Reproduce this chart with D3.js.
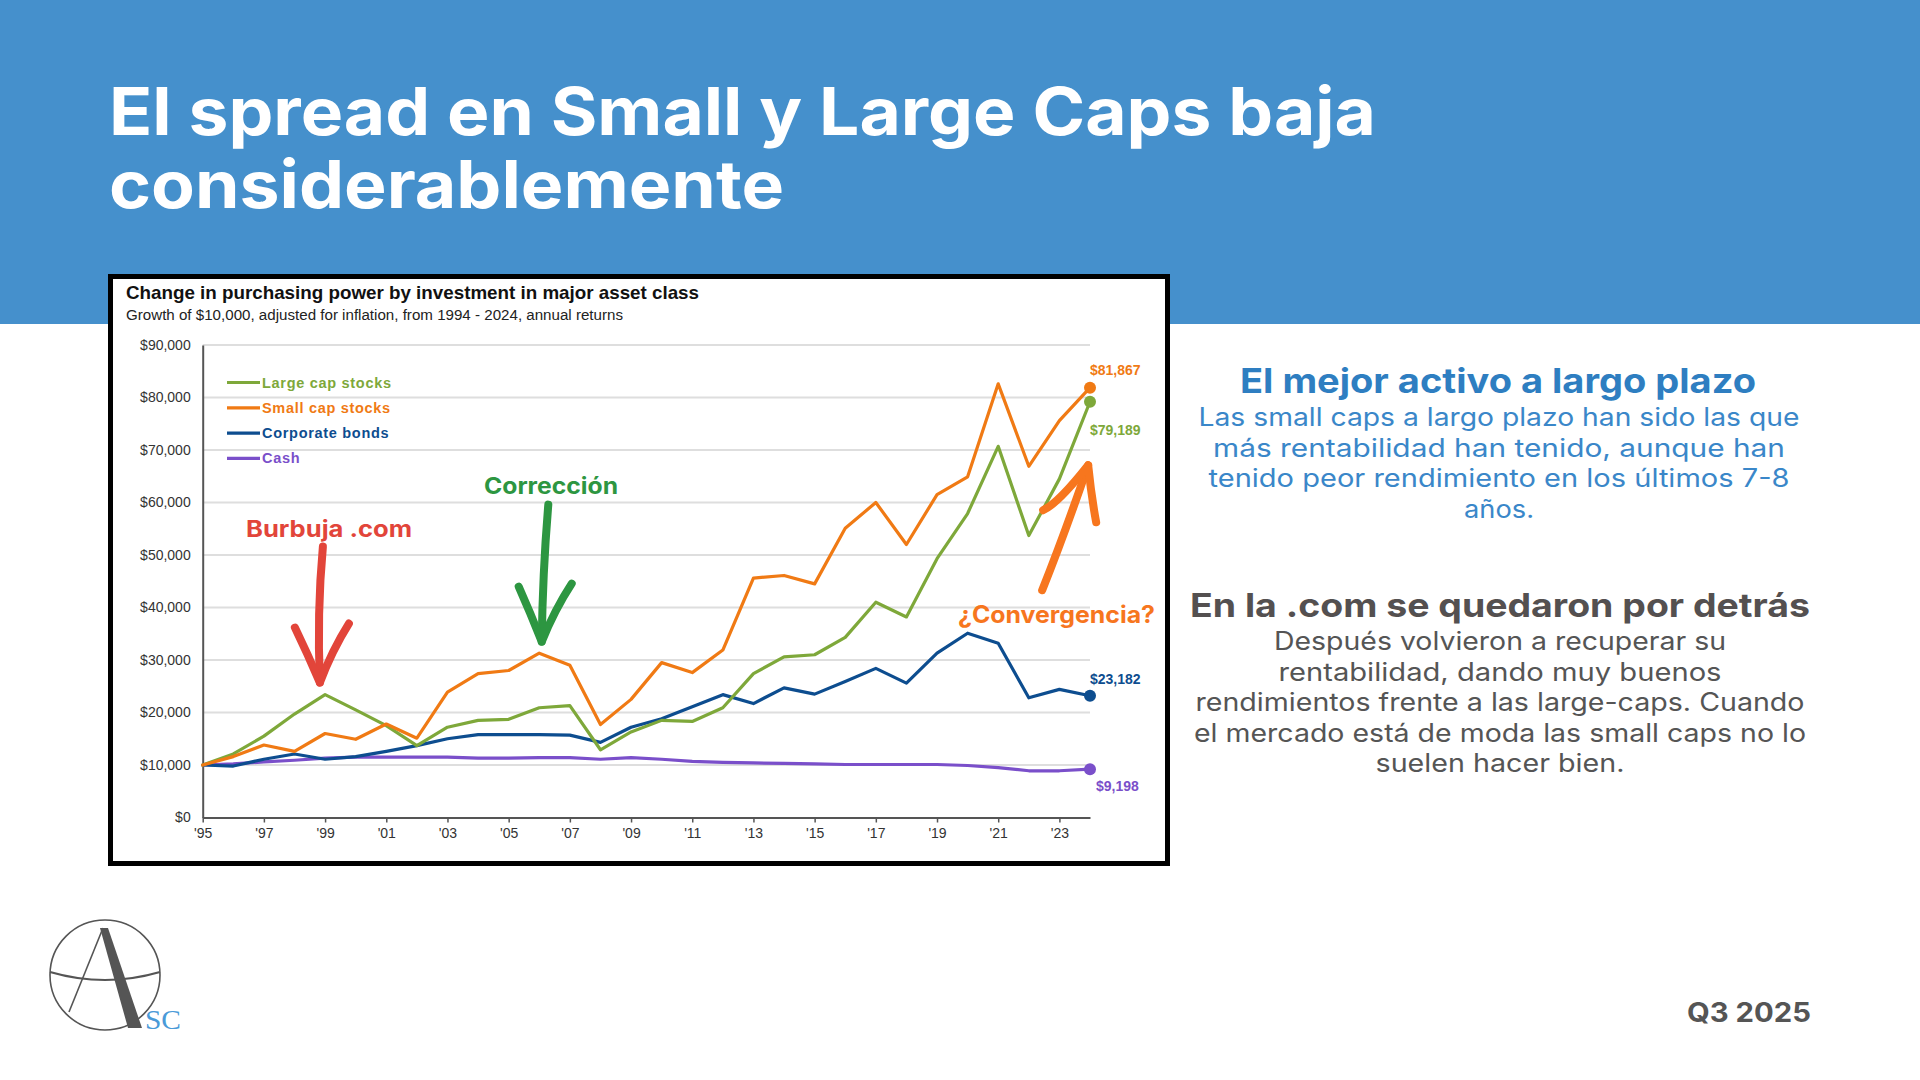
<!DOCTYPE html>
<html><head><meta charset="utf-8">
<script src="https://cdn.jsdelivr.net/npm/d3@7"></script>
<style>html,body{margin:0;padding:0;background:#fff;} svg{display:block;}</style>
</head><body>
<svg id="c" width="1920" height="1080"></svg>
<script>
// ---------- DATA ----------
const years = [1995,1996,1997,1998,1999,2000,2001,2002,2003,2004,2005,2006,2007,2008,2009,2010,2011,2012,2013,2014,2015,2016,2017,2018,2019,2020,2021,2022,2023,2024];
const largeCap = [10000,12100,15500,19700,23400,20500,17500,13700,17200,18500,18700,20900,21300,12900,16300,18500,18300,20900,27400,30600,31000,34300,41000,38200,49300,57900,70700,53700,64500,79189];
const smallCap = [10000,11600,13800,12600,16000,14900,17800,15100,23900,27400,28000,31300,29000,17700,22500,29500,27600,31900,45600,46100,44500,55100,60000,52000,61500,64900,82600,66900,75600,81867];
const corpBonds = [10000,9800,11100,12100,11100,11600,12600,13700,15000,15800,15800,15800,15700,14300,17200,18800,21100,23400,21700,24700,23500,25900,28400,25600,31300,35100,33200,22800,24400,23182];
const cash = [10000,10200,10600,10900,11300,11500,11500,11500,11500,11300,11300,11400,11400,11100,11400,11100,10700,10500,10400,10300,10200,10100,10100,10100,10100,9900,9500,8900,8900,9198];
const seriesNames = ["Large cap stocks","Small cap stocks","Corporate bonds","Cash"];
const endLabels = ["$79,189","$81,867","$23,182","$9,198"];
const yTicks = [0,10000,20000,30000,40000,50000,60000,70000,80000,90000];
const xTickYears = [1995,1997,1999,2001,2003,2005,2007,2009,2011,2013,2015,2017,2019,2021,2023];
const xTickLabels = ["'95","'97","'99","'01","'03","'05","'07","'09","'11","'13","'15","'17","'19","'21","'23"];

// ---------- STYLE ----------
const colors = {"Large cap stocks":"#7ea83a","Small cap stocks":"#f07a14","Corporate bonds":"#0d4d8f","Cash":"#7a4fca"};
const labelOffsets = {"Large cap stocks":[0,33],"Small cap stocks":[0,-13],"Corporate bonds":[0,-12],"Cash":[6,22]};
const HEAD = "Inter, 'Open Sans', sans-serif";
const ARIAL = "'Liberation Sans', Arial, sans-serif";

const svg = d3.select("#c");

// header band
svg.append("rect").attr("x",0).attr("y",0).attr("width",1920).attr("height",324).attr("fill","#4590cc");
function fitText(sel, w){ sel.attr("textLength", w).attr("lengthAdjust","spacingAndGlyphs"); return sel; }
fitText(svg.append("text").attr("x",109).attr("y",135).attr("fill","#fff").attr("font-family",HEAD)
  .attr("font-weight",700).attr("font-size",66).text("El spread en Small y Large Caps baja"),1267);
fitText(svg.append("text").attr("x",109).attr("y",208).attr("fill","#fff").attr("font-family",HEAD)
  .attr("font-weight",700).attr("font-size",66).text("considerablemente"),675);

// chart box
svg.append("rect").attr("x",110.5).attr("y",276.5).attr("width",1057).attr("height",587).attr("fill","#fff")
  .attr("stroke","#000").attr("stroke-width",5);
fitText(svg.append("text").attr("x",126).attr("y",299).attr("font-family",ARIAL).attr("font-weight",700)
  .attr("font-size",18.5).attr("fill","#111").text("Change in purchasing power by investment in major asset class"),573);
fitText(svg.append("text").attr("x",126).attr("y",320).attr("font-family",ARIAL)
  .attr("font-size",14).attr("fill","#222").text("Growth of $10,000, adjusted for inflation, from 1994 - 2024, annual returns"),497);

// scales
const x = d3.scaleLinear().domain([1995,2024]).range([202.7,1090]);
const y = d3.scaleLinear().domain([0,90000]).range([817.5,345]);

// grid
svg.append("g").selectAll("line").data(yTicks.filter(d=>d>0)).join("line")
  .attr("x1",x(1995)).attr("x2",x(2024)).attr("y1",d=>y(d)).attr("y2",d=>y(d))
  .attr("stroke","#dedede").attr("stroke-width",2);

// y axis
const yAxis = svg.append("g").attr("transform",`translate(${x(1995)},0)`)
  .call(d3.axisLeft(y).tickValues(yTicks).tickSize(0).tickSizeOuter(0).tickPadding(12)
    .tickFormat(d=>"$"+d3.format(",")(d)));
yAxis.select(".domain").attr("stroke","#555").attr("stroke-width",2);
yAxis.selectAll("text").attr("font-family",ARIAL).attr("font-size",14).attr("fill","#333");

// x axis
const xAxis = svg.append("g").attr("transform",`translate(0,${y(0)})`)
  .call(d3.axisBottom(x).tickValues(xTickYears).tickSize(5).tickSizeOuter(0).tickPadding(6)
    .tickFormat((d,i)=>xTickLabels[i]));
xAxis.select(".domain").attr("stroke","#555").attr("stroke-width",2);
xAxis.selectAll(".tick line").attr("stroke","#555").attr("stroke-width",1.5);
xAxis.selectAll("text").attr("font-family",ARIAL).attr("font-size",14).attr("fill","#333");

// series
const seriesVals = {"Large cap stocks":largeCap,"Small cap stocks":smallCap,"Corporate bonds":corpBonds,"Cash":cash};
const drawOrder = ["Cash","Corporate bonds","Large cap stocks","Small cap stocks"];
const line = d3.line().x(d=>x(d[0])).y(d=>y(d[1]));
drawOrder.forEach(name=>{
  const pts = years.map((yr,i)=>[yr, seriesVals[name][i]]);
  svg.append("path").datum(pts).attr("d",line).attr("fill","none").attr("stroke",colors[name])
    .attr("stroke-width",3.2).attr("stroke-linejoin","round").attr("stroke-linecap","round");
  const last = pts[pts.length-1];
  svg.append("circle").attr("cx",x(last[0])).attr("cy",y(last[1])).attr("r",6).attr("fill",colors[name]);
  const off = labelOffsets[name];
  svg.append("text").attr("x",x(last[0])+off[0]).attr("y",y(last[1])+off[1])
    .attr("font-family",ARIAL).attr("font-weight",700).attr("font-size",14).attr("fill",colors[name])
    .text(endLabels[seriesNames.indexOf(name)]);
});

// legend
const lg = svg.append("g");
seriesNames.forEach((name,i)=>{
  const by = 387.5 + i*25.3;
  lg.append("line").attr("x1",227).attr("x2",260).attr("y1",by-5).attr("y2",by-5)
    .attr("stroke",colors[name]).attr("stroke-width",3.2);
  lg.append("text").attr("x",262).attr("y",by).attr("font-family",ARIAL).attr("font-weight",700)
    .attr("font-size",14.5).attr("letter-spacing",0.7).attr("fill",colors[name]).text(name);
});

// annotations
function arrow(g, tip, shaft, head, color, w){
  const [tx,ty] = tip;
  g.append("path").attr("d",shaft(tx,ty)).attr("fill","none").attr("stroke",color).attr("stroke-width",w)
    .attr("stroke-linecap","round").attr("stroke-linejoin","round");
  g.append("path").attr("d",head(tx,ty)).attr("fill","none").attr("stroke",color).attr("stroke-width",w)
    .attr("stroke-linecap","round").attr("stroke-linejoin","round");
}
const ann = svg.append("g");
fitText(ann.append("text").attr("x",246).attr("y",537).attr("font-family",HEAD).attr("font-weight",700)
  .attr("font-size",23).attr("fill","#e2453a").text("Burbuja .com"),166);
arrow(ann,[x(1998.83),y(25700)],
  (tx,ty)=>`M${tx+3},${ty-136} Q${tx-3},${ty-70} ${tx},${ty}`,
  (tx,ty)=>`M${tx-25},${ty-55} Q${tx-12},${ty-28} ${tx},${ty} Q${tx+12},${ty-32} ${tx+29},${ty-59}`,
  "#e2453a",8);
fitText(ann.append("text").attr("x",484).attr("y",494).attr("font-family",HEAD).attr("font-weight",700)
  .attr("font-size",23).attr("fill","#2d9641").text("Corrección"),134);
arrow(ann,[x(2006.08),y(33500)],
  (tx,ty)=>`M${tx+6.6},${ty-137} Q${tx+1},${ty-70} ${tx},${ty}`,
  (tx,ty)=>`M${tx-23},${ty-55} Q${tx-11},${ty-28} ${tx},${ty} Q${tx+13},${ty-32} ${tx+30},${ty-58}`,
  "#2d9641",8);
fitText(ann.append("text").attr("x",958).attr("y",623).attr("font-family",HEAD).attr("font-weight",700)
  .attr("font-size",24).attr("fill","#f7761e").text("¿Convergencia?"),197);
arrow(ann,[x(2023.94),y(67100)],
  (tx,ty)=>`M${tx-46},${ty+125} Q${tx-24},${ty+70} ${tx},${ty}`,
  (tx,ty)=>`M${tx-45},${ty+45} Q${tx-30},${ty+38} ${tx},${ty} Q${tx+3},${ty+30} ${tx+8},${ty+57}`,
  "#f7761e",8);

// right side texts
const rt = svg.append("g").attr("text-anchor","middle");
fitText(rt.append("text").attr("x",1498).attr("y",393).attr("font-family",HEAD).attr("font-weight",700)
  .attr("font-size",34).attr("fill","#2e7ec1").text("El mejor activo a largo plazo"),516);
const blueLines = [["Las small caps a largo plazo han sido las que",601],["más rentabilidad han tenido, aunque han",572],
  ["tenido peor rendimiento en los últimos 7-8",581],["años.",70]];
blueLines.forEach((l,i)=>fitText(rt.append("text").attr("x",1499).attr("y",426+i*30.6).attr("font-family",HEAD)
  .attr("font-size",25).attr("fill","#3a87c9").text(l[0]),l[1]));
fitText(rt.append("text").attr("x",1500).attr("y",617).attr("font-family",HEAD).attr("font-weight",700)
  .attr("font-size",33).attr("fill","#545050").text("En la .com se quedaron por detrás"),620);
const grayLines = [["Después volvieron a recuperar su",452],["rentabilidad, dando muy buenos",443],
  ["rendimientos frente a las large-caps. Cuando",609],["el mercado está de moda las small caps no lo",612],
  ["suelen hacer bien.",249]];
grayLines.forEach((l,i)=>fitText(rt.append("text").attr("x",1500).attr("y",650+i*30.6).attr("font-family",HEAD)
  .attr("font-size",25).attr("fill","#555").text(l[0]),l[1]));

// footer
fitText(svg.append("text").attr("x",1687).attr("y",1022).attr("font-family",HEAD).attr("font-weight",700)
  .attr("font-size",27).attr("fill","#555").text("Q3 2025"),124);

// logo
const logo = svg.append("g");
logo.append("circle").attr("cx",105).attr("cy",975).attr("r",55).attr("fill","none").attr("stroke","#555").attr("stroke-width",1.6);
logo.append("path").attr("d","M50,972 Q105,988 160,972").attr("fill","none").attr("stroke","#555").attr("stroke-width",2.2);
logo.append("path").attr("d","M103,928 L69,1012").attr("stroke","#555").attr("stroke-width",1.6);
logo.append("path").attr("d","M100,928 L108,928 L142,1028 L128,1028 Z").attr("fill","#555");
fitText(logo.append("text").attr("x",145).attr("y",1029).attr("font-family","'Liberation Serif', serif")
  .attr("font-size",27).attr("fill","#4a9ad8").text("SC"),36);
</script>
</body></html>
